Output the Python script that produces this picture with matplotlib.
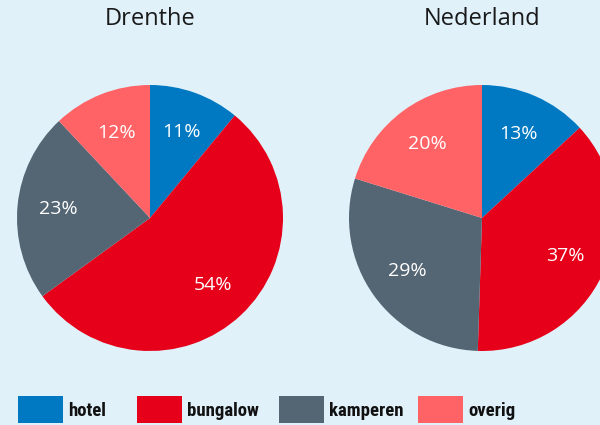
import matplotlib.pyplot as plt
from matplotlib.patches import Patch

categories = ['hotel', 'bungalow', 'kamperen', 'overig']
colors = ['#0079c2', '#e60019', '#546674', '#ff6366']
regions = ['Drenthe', 'Nederland']
drenthe = [11, 54, 23, 12]
nederland = [13, 37, 29, 20]

bg = '#e0f1fa'
plt.rcParams['font.family'] = ['Open Sans', 'DejaVu Sans']

fig = plt.figure(figsize=(6, 4.25), dpi=100, facecolor=bg)
W, H = 600, 425
r = 133
centers = [(150, 218), (482, 218)]

for (cx, cy), name, vals in zip(centers, regions, [drenthe, nederland]):
    ax = fig.add_axes([(cx - r) / W, (H - cy - r) / H, 2 * r / W, 2 * r / H])
    ax.pie(vals, colors=colors, startangle=90, counterclock=False,
           radius=1, pctdistance=0.69,
           autopct=lambda p: f'{p:.0f}%',
           wedgeprops=dict(linewidth=0),
           textprops=dict(color='white', fontsize=14))
    ax.set_xlim(-1, 1)
    ax.set_ylim(-1, 1)
    ax.set_aspect('equal')
    ax.axis('off')
    fig.text(cx / W, 1 - 19 / H, name, ha='center', va='center', fontsize=17,
             color='#1a1a1a')

# legend entries placed one by one
leg_x = [16, 135, 277, 416]
for x, c, lab in zip(leg_x, colors, categories):
    leg = fig.legend([Patch(facecolor=c, edgecolor='none')], [lab],
                     loc='lower left', bbox_to_anchor=(x / W, 0.0),
                     frameon=False, handlelength=2.4, handleheight=1.85,
                     handletextpad=0.28, borderpad=0.0, borderaxespad=0.1,
                     prop=dict(family=['Roboto Condensed', 'DejaVu Sans'],
                               stretch='condensed', weight='bold', size=13.5))
    leg.get_texts()[0].set_color('#111111')

fig.savefig('out.png', dpi=100, facecolor=bg)
